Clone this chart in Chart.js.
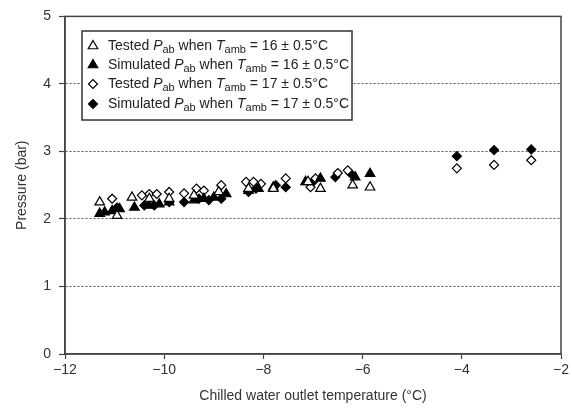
<!DOCTYPE html>
<html>
<head>
<meta charset="utf-8">
<script src="https://cdn.jsdelivr.net/npm/chart.js@4.4.1/dist/chart.umd.min.js"></script>
<style>
  html, body { margin: 0; padding: 0; background: #fff; }
  #wrap { width: 572px; height: 409px; }
</style>
</head>
<body>
<div id="wrap"><canvas id="c" width="572" height="409"></canvas></div>
<script>
// tested P_ab, T_amb = 16
const tested16X = [-11.3, -10.95, -10.65, -10.3, -9.9, -9.4, -8.9, -8.3, -7.8, -7.1, -6.85, -6.2, -5.85];
const tested16Y = [2.25, 2.05, 2.32, 2.3, 2.3, 2.35, 2.4, 2.45, 2.45, 2.55, 2.45, 2.5, 2.47];
// simulated P_ab, T_amb = 16
const sim16X = [-11.3, -11.2, -11.05, -10.9, -10.6, -10.3, -10.1, -9.9, -9.4, -9.2, -9.0, -8.75, -8.3, -8.1, -7.8, -7.15, -6.85, -6.15, -5.85];
const sim16Y = [2.08, 2.1, 2.12, 2.15, 2.17, 2.2, 2.22, 2.25, 2.28, 2.3, 2.32, 2.37, 2.42, 2.45, 2.47, 2.55, 2.6, 2.62, 2.67];
// tested P_ab, T_amb = 17
const tested17X = [-11.05, -10.45, -10.3, -10.15, -9.9, -9.6, -9.35, -9.2, -8.85, -8.35, -8.2, -8.05, -7.55, -7.05, -6.95, -6.5, -6.3, -4.1, -3.35, -2.6];
const tested17Y = [2.3, 2.35, 2.37, 2.37, 2.4, 2.38, 2.45, 2.42, 2.5, 2.55, 2.55, 2.52, 2.6, 2.47, 2.6, 2.68, 2.72, 2.75, 2.8, 2.87];
// simulated P_ab, T_amb = 17
const sim17X = [-10.95, -10.4, -10.2, -9.9, -9.6, -9.3, -9.1, -8.85, -8.3, -8.15, -7.75, -7.55, -7.0, -6.55, -6.25, -4.1, -3.35, -2.6];
const sim17Y = [2.17, 2.2, 2.2, 2.25, 2.25, 2.3, 2.28, 2.3, 2.4, 2.45, 2.5, 2.47, 2.55, 2.62, 2.68, 2.93, 3.02, 3.03];

const xTicks = [-12, -10, -8, -6, -4, -2];
const yTicks = [0, 1, 2, 3, 4, 5];
const legendKinds = ["Tested", "Simulated", "Tested", "Simulated"];
const legendTemps = ["16", "16", "17", "17"];

const FONT = "'Liberation Sans', Arial, sans-serif";
const INK = "#333";

const pts = (xs, ys) => xs.map((x, i) => ({ x: x, y: ys[i] }));

const styles = [
  { pointStyle: "triangle", bg: "#fff", r: 5.5 },
  { pointStyle: "triangle", bg: "#000", r: 5.5 },
  { pointStyle: "rectRot", bg: "#fff", r: 4.5 },
  { pointStyle: "rectRot", bg: "#000", r: 4.5 },
];

const series = [pts(tested16X, tested16Y), pts(sim16X, sim16Y), pts(tested17X, tested17Y), pts(sim17X, sim17Y)];

const datasets = series.map((d, i) => ({
  label: legendKinds[i] + " " + legendTemps[i],
  data: d,
  pointStyle: styles[i].pointStyle,
  pointRadius: styles[i].r,
  pointBackgroundColor: styles[i].bg,
  pointBorderColor: "#000",
  pointBorderWidth: 1.2,
  showLine: false,
}));

// frame round the plot area plus legend box with subscripts
const framePlugin = {
  id: "frame",
  afterDraw(chart) {
    const ctx = chart.ctx;
    const a = chart.chartArea;
    ctx.save();
    ctx.strokeStyle = "#444";
    ctx.lineWidth = 1.5;
    ctx.strokeRect(a.left, a.top, a.right - a.left, a.bottom - a.top);

    // legend
    const bx = 82, by = 31, bw = 270, bh = 89;
    ctx.fillStyle = "#fff";
    ctx.fillRect(bx, by, bw, bh);
    ctx.strokeStyle = "#333";
    ctx.lineWidth = 1.5;
    ctx.strokeRect(bx, by, bw, bh);

    const rowY = [46, 65, 84, 104];
    legendKinds.forEach((kind, i) => {
      const y = rowY[i];
      ctx.fillStyle = styles[i].bg;
      ctx.strokeStyle = "#000";
      ctx.lineWidth = 1.2;
      Chart.helpers.drawPoint(ctx, { pointStyle: styles[i].pointStyle, radius: styles[i].r, borderWidth: 1.2 }, 93, y);
      const segs = [
        [kind + " ", "n"], ["P", "i"], ["ab", "s"], [" when ", "n"],
        ["T", "i"], ["amb", "s"], [" = " + legendTemps[i] + " \u00b1 0.5\u00b0C", "n"],
      ];
      let x = 108;
      ctx.fillStyle = "#222";
      ctx.textBaseline = "middle";
      ctx.textAlign = "left";
      segs.forEach(([t, s]) => {
        if (s === "i") ctx.font = "italic 14px " + FONT;
        else if (s === "s") ctx.font = "11px " + FONT;
        else ctx.font = "14px " + FONT;
        ctx.fillText(t, x, s === "s" ? y + 4 : y);
        x += ctx.measureText(t).width;
      });
    });
    ctx.restore();
  },
};

new Chart(document.getElementById("c"), {
  type: "scatter",
  data: { datasets },
  options: {
    responsive: false,
    animation: false,
    devicePixelRatio: 1,
    layout: { padding: { top: 16, right: 8, left: 0, bottom: 0 } },
    plugins: { legend: { display: false }, tooltip: { enabled: false } },
    scales: {
      x: {
        type: "linear",
        min: -12,
        max: -2,
        afterBuildTicks: (s) => { s.ticks = xTicks.map((v) => ({ value: v })); },
        afterFit: (s) => { s.height = 55; },
        grid: { drawOnChartArea: false, drawTicks: true, tickLength: 5, tickColor: "#444", tickWidth: 1.2 },
        border: { color: "#444", width: 1.5 },
        ticks: {
          color: INK,
          font: { family: FONT, size: 14 },
          padding: 3,
          callback: (v) => String(v).replace("-", "\u2212"),
        },
        title: {
          display: true,
          text: "Chilled water outlet temperature (\u00b0C)",
          color: INK,
          font: { family: FONT, size: 14 },
          padding: { top: 8 },
        },
      },
      y: {
        type: "linear",
        min: 0,
        max: 5,
        afterBuildTicks: (s) => { s.ticks = yTicks.map((v) => ({ value: v })); },
        afterFit: (s) => { s.width = 65; },
        grid: {
          drawTicks: true,
          tickLength: 6,
          tickColor: "#444",
          tickWidth: 1.2,
          lineWidth: 1,
          color: (c) => (c.tick && (c.tick.value === 0 || c.tick.value === 5) ? "rgba(0,0,0,0)" : "#555"),
        },
        border: { color: "#444", width: 1.5, dash: [2, 2] },
        ticks: { color: INK, font: { family: FONT, size: 14 }, padding: 8 },
        title: {
          display: true,
          text: "Pressure (bar)",
          color: INK,
          font: { family: FONT, size: 14 },
          padding: { top: 14, bottom: 0 },
        },
      },
    },
  },
  plugins: [framePlugin],
});
</script>
</body>
</html>
